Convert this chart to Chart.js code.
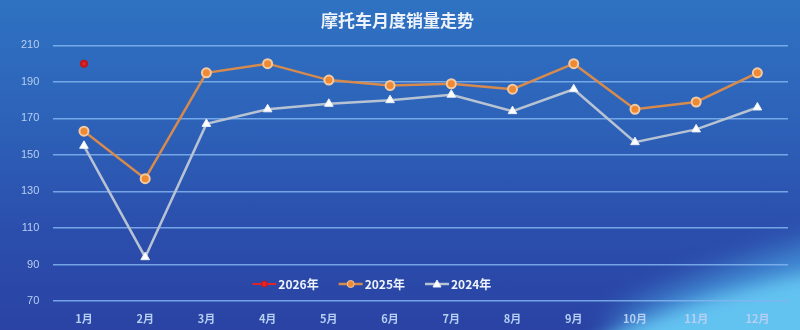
<!DOCTYPE html>
<html>
<head>
<meta charset="utf-8">
<script src="https://cdn.jsdelivr.net/npm/chart.js@4/dist/chart.umd.min.js"></script>
<style>
  html, body { margin: 0; padding: 0; }
  body { width: 800px; height: 330px; overflow: hidden; }
  .wrap {
    width: 800px; height: 330px; position: relative; overflow: hidden;
    background: linear-gradient(180deg, #2f72c2 0%, #2d63b9 35%, #2b4eac 70%, #2a43a4 100%);
  }
  .swoosh {
    position: absolute; left: 540px; top: 285px; width: 440px; height: 90px;
    background: #62c2f0; border-radius: 50%;
    transform: rotate(-15deg); filter: blur(8px); opacity: 1;
  }
  .swoosh2 {
    position: absolute; left: 600px; top: 252px; width: 360px; height: 46px;
    background: #4aa4e4; border-radius: 50%;
    transform: rotate(-17deg); filter: blur(14px); opacity: 0.7;
  }
  canvas { position: absolute; left: 0; top: 0; }
</style>
</head>
<body>
<div class="wrap">
  <div class="swoosh2"></div>
  <div class="swoosh"></div>
  <canvas id="salesChart" width="800" height="330"></canvas>
</div>
<script>
// data
const months = ["1月", "2月", "3月", "4月", "5月", "6月", "7月", "8月", "9月", "10月", "11月", "12月"];
const sales2026 = [200, null, null, null, null, null, null, null, null, null, null, null];
const sales2025 = [163, 137, 195, 200, 191, 188, 189, 186, 200, 175, 179, 195];
const sales2024 = [155, 94, 167, 175, 178, 180, 183, 174, 186, 157, 164, 176];
const yTicks = [70, 90, 110, 130, 150, 170, 190, 210];

// legend drawn inside the plot, near the bottom
const innerLegend = {
    id: 'innerLegend',
    afterDraw(chart) {
        const ctx = chart.ctx;
        const area = chart.chartArea;
        const y = area.bottom - 17;
        let x = area.left + 199;
        ctx.save();
        ctx.font = 'bold 12px "Noto Sans CJK SC", sans-serif';
        ctx.textBaseline = 'middle';
        chart.data.datasets.forEach(ds => {
            ctx.strokeStyle = ds.borderColor;
            ctx.lineWidth = ds.borderWidth;
            ctx.beginPath();
            ctx.moveTo(x, y);
            ctx.lineTo(x + 24, y);
            ctx.stroke();
            const cx = x + 12;
            ctx.fillStyle = ds.pointBackgroundColor;
            ctx.strokeStyle = ds.pointBorderColor;
            ctx.lineWidth = 1;
            ctx.beginPath();
            if (ds.pointStyle === 'triangle') {
                ctx.moveTo(cx, y - 4);
                ctx.lineTo(cx + 4, y + 3);
                ctx.lineTo(cx - 4, y + 3);
                ctx.closePath();
            } else {
                ctx.arc(cx, y, Math.max(ds.pointRadius - 1, 3), 0, Math.PI * 2);
            }
            ctx.fill();
            ctx.stroke();
            ctx.fillStyle = '#eef3fb';
            ctx.fillText(ds.label, x + 26, y);
            x += 26 + ctx.measureText(ds.label).width + 20;
        });
        ctx.restore();
    }
};

const salesChart = new Chart(document.getElementById("salesChart"), {
    type: "line",
    data: {
        labels: months,
        datasets: [{
            label: "2026年",
            data: sales2026,
            borderColor: "#e0242a",
            borderWidth: 2,
            pointBackgroundColor: "#e0242a",
            pointBorderColor: "#c01818",
            pointRadius: 3,
            pointStyle: 'circle'
        }, {
            label: "2025年",
            data: sales2025,
            borderColor: "#d68a4e",
            borderWidth: 2.5,
            pointBackgroundColor: "#ef8a32",
            pointBorderColor: "#f2caa4",
            pointBorderWidth: 2,
            pointRadius: 4.5,
            pointStyle: 'circle'
        }, {
            label: "2024年",
            data: sales2024,
            borderColor: "#b7c3d3",
            borderWidth: 2.5,
            pointBackgroundColor: "#ffffff",
            pointBorderColor: "#e8eef6",
            pointBorderWidth: 1,
            pointRadius: 5,
            pointStyle: 'triangle'
        }]
    },
    options: {
        responsive: false,
        animation: false,
        layout: { padding: { left: 7, right: 12, top: 0, bottom: 0 } },
        plugins: {
            legend: { display: false },
            tooltip: { enabled: false },
            title: {
                display: true,
                text: "摩托车月度销量走势",
                color: "#eef3fb",
                font: { family: '"Noto Sans CJK SC", sans-serif', size: 17, weight: 'bold' },
                padding: { top: 10, bottom: 15 }
            }
        },
        scales: {
            x: {
                offset: true,
                grid: { display: false },
                border: { display: false },
                afterFit(scale) { scale.height = 29; },
                ticks: {
                    color: "#b6cff2",
                    padding: 3,
                    font: { family: '"Noto Sans CJK SC", sans-serif', size: 11, weight: 'bold' }
                }
            },
            y: {
                min: 70,
                max: 210,
                afterBuildTicks(scale) { scale.ticks = yTicks.map(v => ({ value: v })); },
                grid: { color: "rgba(130,180,240,0.85)", lineWidth: 1.5, drawTicks: false },
                border: { display: false },
                ticks: {
                    color: "#b6cff2",
                    padding: 14,
                    font: { family: '"Liberation Sans", sans-serif', size: 11 }
                }
            }
        }
    },
    plugins: [innerLegend]
});
</script>
</body>
</html>
